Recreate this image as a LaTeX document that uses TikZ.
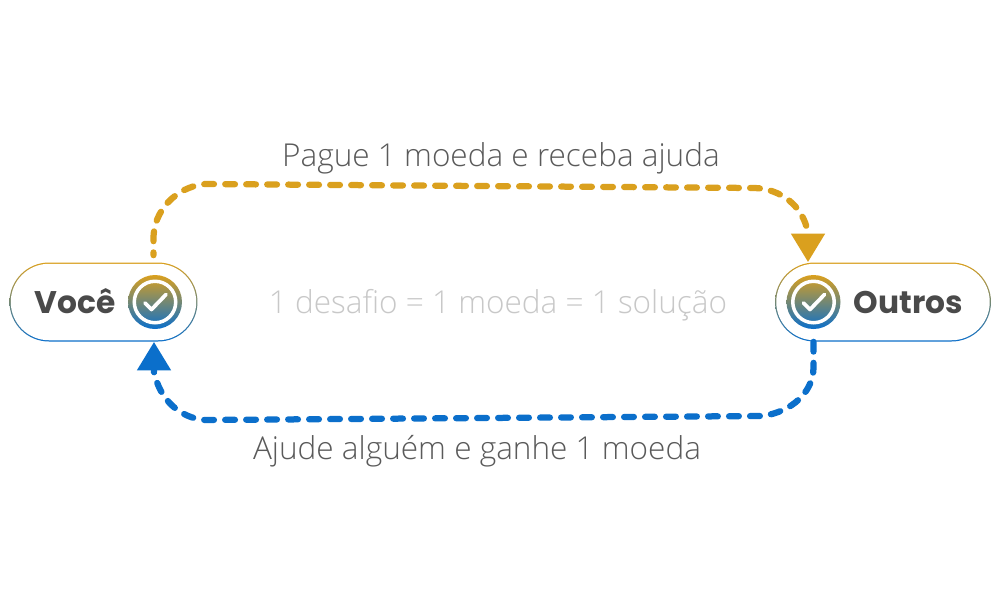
\documentclass[tikz,border=0pt]{standalone}
\usepackage{fontspec}
\setmainfont{Open Sans}
\newfontfamily\lightfont{Open Sans Light}
\newfontfamily\boldfont{Poppins}[UprightFont=* Bold]
\usetikzlibrary{arrows.meta,positioning,shapes.misc}

\definecolor{goldc}{HTML}{DAA01E}
\definecolor{bluec}{HTML}{0B6FCB}
\definecolor{namec}{HTML}{4A4A4A}
\definecolor{labelc}{HTML}{5A5A5A}
\definecolor{hintc}{HTML}{C8C8C8}

\newcommand{\drawtick}[1]{
  \draw[white,line width=0.075cm,line cap=round,line join=round]
    ([shift={(-10,1)}]#1.center) -- ([shift={(-3.5,7.5)}]#1.center) -- ([shift={(11,-7.5)}]#1.center);
}

\begin{document}
\begin{tikzpicture}[x=0.02cm,y=-0.02cm,
    pill/.style={rounded rectangle,inner sep=0pt,minimum height=1.58cm,
      top color=goldc,bottom color=bluec},
    pillinner/.style={rounded rectangle,inner sep=0pt,minimum height=1.53cm,fill=white},
    icon/.style={circle,inner sep=0pt,minimum size=1.08cm,top color=goldc,bottom color=bluec},
    iconring/.style={circle,inner sep=0pt,minimum size=0.83cm,draw=white,line width=0.07cm},
    whotext/.style={font=\boldfont\fontsize{17.8}{20}\selectfont,text=namec,inner sep=0pt,
      text height=0.44cm,text depth=0pt},
    flowtext/.style={font=\lightfont\fontsize{17.95}{22}\selectfont,text=labelc},
    hinttext/.style={font=\lightfont\fontsize{17.95}{22}\selectfont,text=hintc},
    flow/.style={line width=0.125cm,line cap=round,dash pattern=on 0.195cm off 0.225cm,
      -{Triangle[width=0.65cm,length=0.57cm]}}]

  \useasboundingbox[fill=white] (0,0) rectangle (1001,600);

  % the two people
  \node[pill,minimum width=3.76cm] (voce) at (103.5,302) {};
  \node[pillinner,minimum width=3.71cm] (voceinner) at (voce.center) {};
  \node[pill,minimum width=4.32cm] (outros) at (883,302) {};
  \node[pillinner,minimum width=4.27cm] (outrosinner) at (outros.center) {};

  \node[icon] (voceicon) at (155,302) {};
  \node[iconring] (vocering) at (voceicon.center) {};
  \drawtick{voceicon}
  \node[icon] (outrosicon) at (813.5,302) {};
  \node[iconring] (outrosring) at (outrosicon.center) {};
  \drawtick{outrosicon}

  \node[whotext,left=0.24cm of voceicon] (vocename) {Você};
  \node[whotext,right=0.25cm of outrosicon] (outrosname) {Outros};

  % texts
  \node[flowtext] (paytext) at (501,158) {Pague 1 moeda e receba ajuda};
  \node[hinttext] (ruletext) at (498,305) {1 desafio = 1 moeda = 1 solução};
  \node[flowtext] (helptext) at (477,451) {Ajude alguém e ganhe 1 moeda};

  % the two flows
  \draw[flow,goldc,dash phase=0.14cm,shorten <=0.14cm] ([xshift=1cm]voce.north)
    -- ++(0,-23) .. controls (153,212) and (175,187) .. (205,184)
    -- (755,188) .. controls (780,189) and (803,205) .. (808,233)
    -- ([xshift=-1.5cm]outros.north);
  \draw[flow,bluec] ([xshift=-1.39cm]outros.south)
    -- ++(0,26) .. controls (813,392) and (792,412) .. (762,416)
    -- (205,420) .. controls (180,418) and (160,400) .. (154,372)
    -- ([xshift=1.01cm]voce.south);

\end{tikzpicture}
\end{document}
